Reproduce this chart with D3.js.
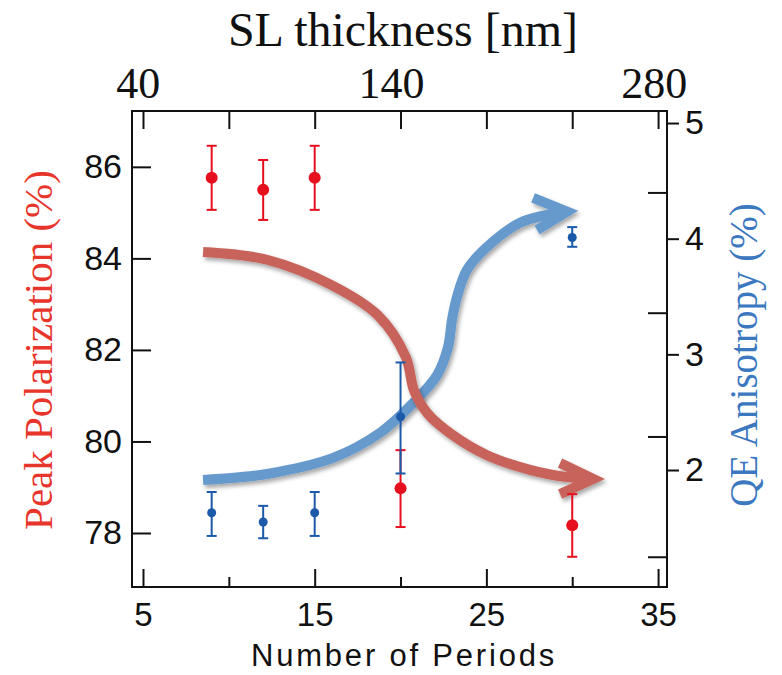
<!DOCTYPE html>
<html lang="en">
<head>
  <meta charset="UTF-8">
  <title>Polarization and QE anisotropy vs number of periods</title>
  <script src="https://d3js.org/d3.v7.min.js"></script>
  <style>
    body { margin: 0; background: #fff; }
  </style>
</head>
<body>
<svg width="782" height="675"></svg>
<script>
  // measured points
  var periods = [9, 12, 15, 20, 30];
  var polarization = [85.76, 85.5, 85.76, 78.98, 78.17];
  var polarizationLo = [85.06, 84.84, 85.06, 78.13, 77.48];
  var polarizationHi = [86.46, 86.15, 86.46, 79.81, 78.85];
  var anisotropy = [1.63, 1.55, 1.63, 2.46, 4.01];
  var anisotropyLo = [1.43, 1.41, 1.43, 1.97, 3.93];
  var anisotropyHi = [1.81, 1.69, 1.81, 2.93, 4.10];

  // tick labels
  var periodTicks = [5, 15, 25, 35];
  var periodMinorTicks = [10, 20, 30];
  var polarizationTicks = [78, 80, 82, 84, 86];
  var anisotropyTicks = [2, 3, 4, 5];
  var anisotropyInnerTicks = [1.25, 2.29, 3.36, 4.4];
  var thicknessTicks = [40, 140, 280];
  var thicknessAtPeriod = [4.7, 19.45, 34.75];

  // hand drawn trend arrows, in (periods, polarization %) units
  var redTrend = [[8.5, 84.14], [12.22, 83.97], [16.07, 83.4], [18.7, 82.75],
    [20.3, 81.85], [20.8, 81.1], [21.6, 80.6], [23.0, 80.15], [25.04, 79.7],
    [27.54, 79.38], [29.7, 79.22], [31.04, 79.18]];
  var redHead = [[29.29, 79.53], [31.22, 79.18], [29.29, 78.85]];
  var blueTrend = [[8.5, 79.16], [12.22, 79.29], [16.07, 79.64], [18.81, 80.19], [20.73, 80.84],
    [22.13, 81.45], [22.77, 82.07], [23.0, 82.66], [23.29, 83.16], [23.87, 83.75],
    [25.04, 84.25], [26.96, 84.78], [28.53, 84.95], [29.58, 85.02]];
  var blueHead = [[27.72, 85.32], [29.7, 85.02], [27.95, 84.62]];

  var margin = {top: 111, left: 132};
  var width = 535;
  var height = 476;

  var svg = d3.select('svg');

  var defs = svg.append('defs');
  var shadow = defs.append('filter')
    .attr('id', 'shadow')
    .attr('x', '-10%').attr('y', '-10%')
    .attr('width', '130%').attr('height', '130%');
  shadow.append('feDropShadow')
    .attr('dx', 2).attr('dy', 3)
    .attr('stdDeviation', 2)
    .attr('flood-color', '#000')
    .attr('flood-opacity', 0.35);

  var g = svg.append('g')
    .attr('transform', 'translate(' + margin.left + ',' + margin.top + ')');

  var x = d3.scaleLinear().domain([4.36, 35.52]).range([0, width]);
  var yL = d3.scaleLinear().domain([76.82, 87.22]).range([height, 0]);
  var yR = d3.scaleLinear().domain([0.9885, 5.104]).range([height, 0]);
  var xTop = d3.scaleLinear().domain(thicknessTicks).range(thicknessAtPeriod.map(x));

  var sans = 'Liberation Sans, Arial, sans-serif';
  var serif = 'Liberation Serif, Times New Roman, serif';

  function styleAxis(sel, size, family) {
    sel.select('.domain').remove();
    sel.selectAll('line').attr('stroke', '#111').attr('stroke-width', 2);
    sel.selectAll('text')
      .attr('fill', '#111')
      .style('font-family', family)
      .style('font-size', size + 'px');
  }

  // bottom axis
  g.append('g')
    .attr('transform', 'translate(0,' + height + ')')
    .call(d3.axisBottom(x).tickValues(periodTicks).tickSize(-18).tickPadding(16))
    .call(styleAxis, 33, sans);
  g.append('g')
    .attr('transform', 'translate(0,' + height + ')')
    .call(d3.axisBottom(x).tickValues(periodMinorTicks).tickSize(-10).tickFormat(''))
    .call(styleAxis, 33, sans);

  // top: mirror ticks and SL thickness labels
  g.append('g')
    .call(d3.axisTop(x).tickValues(periodTicks.concat(periodMinorTicks)).tickSize(-18).tickFormat(''))
    .call(styleAxis, 33, sans);
  g.append('g')
    .call(d3.axisTop(xTop).tickValues(thicknessTicks).tickSize(0).tickPadding(13))
    .call(styleAxis, 44, serif);

  // left axis
  g.append('g')
    .call(d3.axisLeft(yL).tickValues(polarizationTicks).tickSize(-19).tickPadding(10))
    .call(styleAxis, 34, sans);

  // right axis
  g.append('g')
    .attr('transform', 'translate(' + width + ',0)')
    .call(d3.axisRight(yR).tickValues(anisotropyTicks).tickSize(12).tickPadding(6).tickFormat(d3.format('d')))
    .call(styleAxis, 34, sans);
  g.append('g')
    .attr('transform', 'translate(' + width + ',0)')
    .call(d3.axisRight(yR).tickValues(anisotropyInnerTicks).tickSize(-19).tickFormat(''))
    .call(styleAxis, 34, sans);

  g.append('rect')
    .attr('width', width)
    .attr('height', height)
    .attr('fill', 'none')
    .attr('stroke', '#111')
    .attr('stroke-width', 2);

  // trend arrows
  var trendLine = d3.line()
    .x(function (d) { return x(d[0]); })
    .y(function (d) { return yL(d[1]); })
    .curve(d3.curveCatmullRom.alpha(0.5));
  var headLine = d3.line()
    .x(function (d) { return x(d[0]); })
    .y(function (d) { return yL(d[1]); });

  var arrows = [
    {trend: blueTrend, head: blueHead, color: '#6699cc'},
    {trend: redTrend, head: redHead, color: '#c8645c'}
  ];
  arrows.forEach(function (a) {
    var ag = g.append('g').attr('filter', 'url(#shadow)');
    ag.append('path')
      .datum(a.trend)
      .attr('fill', 'none')
      .attr('stroke', a.color)
      .attr('stroke-width', 10)
      .attr('d', trendLine);
    ag.append('path')
      .datum(a.head)
      .attr('fill', 'none')
      .attr('stroke', a.color)
      .attr('stroke-width', 10)
      .attr('stroke-linejoin', 'miter')
      .attr('d', headLine);
  });

  // data with error bars
  function errorBars(values, lo, hi, scale, color, r) {
    var pts = periods.map(function (p, i) {
      return {p: p, v: values[i], lo: lo[i], hi: hi[i]};
    });
    var bar = g.append('g').selectAll('g').data(pts).enter().append('g');
    bar.append('line')
      .attr('x1', function (d) { return x(d.p); })
      .attr('x2', function (d) { return x(d.p); })
      .attr('y1', function (d) { return scale(d.lo); })
      .attr('y2', function (d) { return scale(d.hi); })
      .attr('stroke', color).attr('stroke-width', 2);
    ['lo', 'hi'].forEach(function (k) {
      bar.append('line')
        .attr('x1', function (d) { return x(d.p) - 5; })
        .attr('x2', function (d) { return x(d.p) + 5; })
        .attr('y1', function (d) { return scale(d[k]); })
        .attr('y2', function (d) { return scale(d[k]); })
        .attr('stroke', color).attr('stroke-width', 2);
    });
    bar.append('circle')
      .attr('cx', function (d) { return x(d.p); })
      .attr('cy', function (d) { return scale(d.v); })
      .attr('r', r)
      .attr('fill', color);
  }
  errorBars(polarization, polarizationLo, polarizationHi, yL, '#e60f1e', 6);
  errorBars(anisotropy, anisotropyLo, anisotropyHi, yR, '#1a5aa8', 4.5);

  // titles
  svg.append('text')
    .attr('x', 403).attr('y', 46)
    .attr('text-anchor', 'middle')
    .style('font-family', serif)
    .style('font-size', '48px')
    .attr('fill', '#111')
    .text('SL thickness [nm]');

  svg.append('text')
    .attr('x', 404).attr('y', 666)
    .attr('text-anchor', 'middle')
    .style('font-family', sans)
    .style('font-size', '31px')
    .style('letter-spacing', '2.8px')
    .attr('fill', '#111')
    .text('Number of Periods');

  svg.append('text')
    .attr('transform', 'translate(52,350) rotate(-90)')
    .attr('text-anchor', 'middle')
    .style('font-family', serif)
    .style('font-size', '41px')
    .attr('fill', '#e8352c')
    .text('Peak Polarization (%)');

  svg.append('text')
    .attr('transform', 'translate(757,355) rotate(-90)')
    .attr('text-anchor', 'middle')
    .style('font-family', serif)
    .style('font-size', '39px')
    .attr('fill', '#3b78c0')
    .text('QE Anisotropy (%)');
</script>
</body>
</html>
